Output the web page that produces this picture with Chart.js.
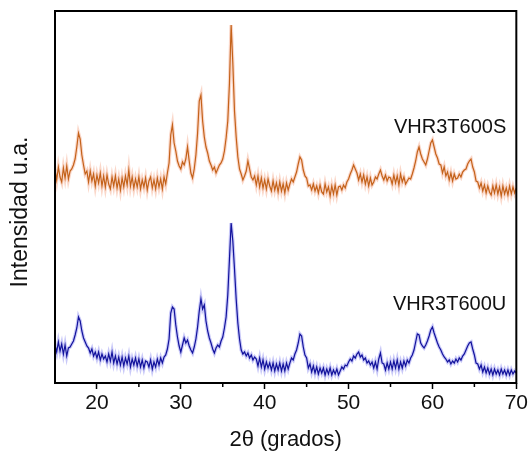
<!DOCTYPE html>
<html>
<head>
<meta charset="utf-8">
<script src="https://cdn.jsdelivr.net/npm/chart.js@4.4.1/dist/chart.umd.min.js"></script>
<style>
  html, body { margin: 0; padding: 0; background: #fff; }
  #wrap { width: 530px; height: 455px; }
</style>
</head>
<body>
<div id="wrap"><canvas id="xrdChart" width="530" height="455"></canvas></div>
<script>
// --- Datos del difractograma ---
const scanStart = 15;   // 2θ inicial
const scanStep = 0.2;   // paso del barrido

// VHR3T600S (curva naranja, desplazada hacia arriba)
const intensityS = [
    214, 203, 216, 206, 201, 215, 205, 217, 204, 212,
    214, 218, 224, 236, 250, 244, 228, 218, 209, 212,
    201, 212, 202, 209, 197, 208, 200, 210, 197, 207,
    196, 208, 199, 194, 206, 197, 207, 195, 204, 193,
    205, 196, 207, 198, 213, 197, 206, 195, 204, 196,
    206, 194, 203, 196, 205, 193, 202, 206, 195, 203,
    194, 205, 196, 204, 194, 206, 199, 210, 220, 248,
    258, 240, 232, 222, 217, 214, 221, 218, 224, 236,
    222, 210, 205, 214, 228, 250, 282, 288, 262, 246,
    236, 230, 222, 218, 213, 216, 210, 214, 218, 220,
    224, 232, 245, 262, 300, 358, 320, 272, 246, 226,
    214, 209, 203, 207, 212, 222, 214, 206, 203, 207,
    198, 207, 196, 205, 195, 203, 194, 204, 197, 192,
    202, 193, 200, 191, 201, 192, 199, 190, 200, 193,
    199, 204, 201, 206, 211, 219, 226, 223, 213, 207,
    205, 197, 198, 193, 199, 192, 197, 190, 198, 191,
    189, 199, 191, 196, 187, 197, 189, 198, 188, 196,
    197, 193, 198, 195, 201, 204, 209, 213, 218, 214,
    210, 203, 209, 201, 208, 199, 206, 197, 205, 198,
    201, 206, 204, 209, 213, 207, 203, 208, 202, 206,
    205, 199, 208, 200, 207, 198, 209, 201, 206, 199,
    202, 205, 204, 209, 215, 222, 231, 236, 229, 224,
    221, 218, 224, 232, 240, 243, 236, 229, 225, 219,
    218, 210, 216, 207, 211, 203, 210, 202, 209, 204,
    205, 209, 206, 211, 213, 214, 219, 222, 224, 216,
    211, 202, 201, 195, 200, 192, 198, 190, 197, 191,
    188, 197, 190, 198, 189, 196, 187, 197, 189, 195,
    188, 197, 189, 196, 190, 195
];

// VHR3T600U (curva azul)
const intensityU = [
    38, 31, 41, 32, 39, 29, 38, 27, 35, 36,
    39, 42, 48, 55, 66, 62, 52, 45, 41, 37,
    35, 30, 34, 27, 31, 25, 31, 23, 29, 24,
    27, 21, 29, 22, 31, 20, 27, 19, 26, 18,
    26, 17, 25, 19, 27, 16, 24, 18, 25, 17,
    24, 16, 23, 15, 22, 21, 16, 23, 14, 21,
    16, 24, 18, 25, 20, 26, 28, 34, 44, 70,
    76, 74, 58, 46, 37, 31, 38, 45, 40, 43,
    37, 33, 30, 36, 44, 56, 72, 84, 74, 78,
    62, 52, 45, 40, 34, 30, 35, 38, 36, 42,
    46, 55, 66, 88, 124, 160, 142, 114, 84, 60,
    44, 33, 29, 31, 27, 30, 25, 28, 23, 26,
    24, 17, 25, 16, 23, 14, 21, 15, 20, 13,
    20, 12, 19, 13, 20, 12, 19, 12, 20, 14,
    20, 25, 23, 29, 33, 40, 49, 47, 36, 28,
    25, 15, 19, 11, 17, 10, 16, 9, 15, 10,
    15, 8, 14, 9, 15, 8, 13, 9, 14, 8,
    12, 16, 14, 18, 17, 21, 24, 22, 27, 25,
    29, 31, 26, 28, 23, 25, 20, 22, 18, 21,
    15, 21, 14, 24, 30, 20, 19, 13, 20, 14,
    21, 14, 22, 15, 23, 14, 21, 15, 22, 17,
    23, 20, 25, 28, 33, 41, 49, 48, 40, 37,
    35, 38, 42, 47, 53, 56, 50, 45, 40, 36,
    33, 29, 26, 24, 21, 23, 19, 22, 20, 24,
    21, 25, 23, 27, 29, 33, 37, 40, 41, 34,
    28, 20, 19, 14, 18, 11, 16, 10, 15, 9,
    14, 8, 14, 9, 13, 8, 14, 9, 13, 8,
    13, 8, 13, 9, 12, 10
];

const xMajorTicks = [20, 30, 40, 50, 60, 70];
const xMinorTicks = [25, 35, 45, 55, 65];
const sampleNames = ['VHR3T600S', 'VHR3T600U'];

// posiciones de las etiquetas (en unidades de los ejes)
const nameAnchors = [{ x: 68.8, y: 250 }, { x: 68.8, y: 73 }];

const theta = intensityS.map((_, i) => +(scanStart + i * scanStep).toFixed(1));
const FONT = '"Liberation Sans", Arial, sans-serif';

// --- Marco, ticks menores, nombres y título del eje Y ---
const framePlugin = {
    id: 'framePlugin',
    afterDraw(chart) {
        const { ctx, chartArea: a, scales: { x, y } } = chart;
        ctx.save();
        ctx.strokeStyle = '#000';
        ctx.lineWidth = 2;
        ctx.strokeRect(a.left, a.top, a.right - a.left, a.bottom - a.top);

        ctx.lineWidth = 1.5;
        xMinorTicks.forEach(v => {
            const px = x.getPixelForValue(v);
            ctx.beginPath();
            ctx.moveTo(px, a.bottom);
            ctx.lineTo(px, a.bottom + 4);
            ctx.stroke();
        });

        ctx.fillStyle = '#111';
        ctx.font = '20px ' + FONT;
        ctx.textAlign = 'right';
        ctx.textBaseline = 'alphabetic';
        sampleNames.forEach((n, i) => {
            ctx.fillText(n, x.getPixelForValue(nameAnchors[i].x), y.getPixelForValue(nameAnchors[i].y));
        });

        ctx.translate(21, a.top + 201);
        ctx.rotate(-Math.PI / 2);
        ctx.font = '23px ' + FONT;
        ctx.textAlign = 'center';
        ctx.textBaseline = 'middle';
        ctx.fillText('Intensidad u.a.', 0, 0);
        ctx.restore();
    }
};

const ctx = document.getElementById('xrdChart').getContext('2d');
const xrdChart = new Chart(ctx, {
    type: 'line',
    data: {
        labels: theta,
        datasets: [
            { data: intensityS, borderColor: '#c4621a', borderWidth: 1.2, pointRadius: 0, tension: 0 },
            { data: intensityU, borderColor: '#12129c', borderWidth: 1.2, pointRadius: 0, tension: 0 },
            { data: intensityS, borderColor: 'rgba(240, 140, 100, 0.35)', borderWidth: 3.5, pointRadius: 0, tension: 0 },
            { data: intensityU, borderColor: 'rgba(100, 100, 235, 0.35)', borderWidth: 3.5, pointRadius: 0, tension: 0 }
        ]
    },
    options: {
        responsive: false,
        animation: false,
        layout: { padding: { left: 55, right: 13, top: 11, bottom: 0 } },
        plugins: { legend: { display: false }, tooltip: { enabled: false } },
        scales: {
            x: {
                type: 'linear', min: 15, max: 70,
                afterBuildTicks: s => { s.ticks = xMajorTicks.map(v => ({ value: v })); },
                afterFit: s => { s.height = 72; },
                border: { display: false },
                grid: { display: true, drawOnChartArea: false, drawTicks: true, tickLength: 6, tickWidth: 1.5, tickColor: '#000' },
                ticks: { color: '#111', font: { size: 21, family: FONT }, padding: 2, maxRotation: 0, autoSkip: false },
                title: { display: true, text: '2θ (grados)', color: '#111', font: { size: 22, family: FONT }, padding: { top: 0, bottom: 2 } }
            },
            y: { display: false, min: 0, max: 372 }
        }
    },
    plugins: [framePlugin]
});
</script>
</body>
</html>
